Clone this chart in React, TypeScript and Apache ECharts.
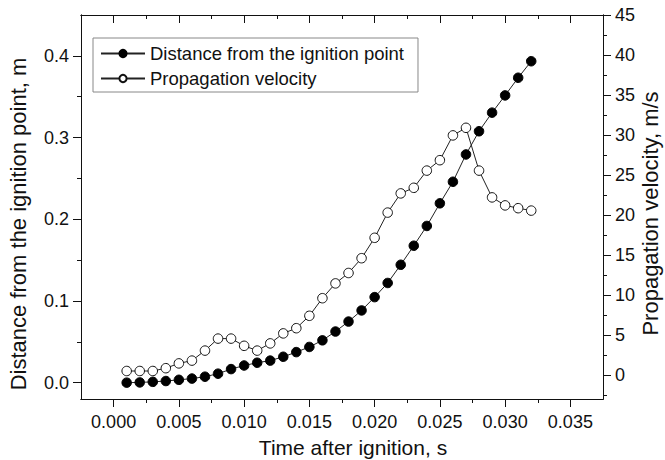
import React, { useEffect, useRef } from "react";
import * as echarts from "echarts";

const times = [
  0.001, 0.002, 0.003, 0.004, 0.005, 0.006, 0.007, 0.008, 0.009, 0.01,
  0.011, 0.012, 0.013, 0.014, 0.015, 0.016, 0.017, 0.018, 0.019, 0.02,
  0.021, 0.022, 0.023, 0.024, 0.025, 0.026, 0.027, 0.028, 0.029, 0.03,
  0.031, 0.032,
];
const distance = [
  0, 0.0003, 0.001, 0.002, 0.0035, 0.005, 0.0073, 0.011, 0.0166, 0.021,
  0.0244, 0.027, 0.0317, 0.0374, 0.0437, 0.0518, 0.0626, 0.0748, 0.0884,
  0.1047, 0.122, 0.1443, 0.1676, 0.1918, 0.2195, 0.2459, 0.2793, 0.3077,
  0.3305, 0.3516, 0.3732, 0.3934,
];
const velocity = [
  0.5, 0.5, 0.5, 0.85, 1.45, 1.8, 3.05, 4.55, 4.55, 3.65, 3.05, 3.95, 5.2,
  5.85, 7.4, 9.6, 11.45, 12.75, 14.6, 17.15, 20.3, 22.7, 23.4, 25.55, 26.85,
  29.95, 30.9, 25.55, 22.2, 21.2, 20.85, 20.55,
];
const xMajor = [0, 0.005, 0.01, 0.015, 0.02, 0.025, 0.03, 0.035];
const xMinor = [0.0025, 0.0075, 0.0125, 0.0175, 0.0225, 0.0275, 0.0325];
const yLeftMajor = [0, 0.1, 0.2, 0.3, 0.4];
const yLeftMinor = [0.05, 0.15, 0.25, 0.35];
const yRightMajor = [0, 5, 10, 15, 20, 25, 30, 35, 40, 45];
const yRightMinor = [-2.5, 2.5, 7.5, 12.5, 17.5, 22.5, 27.5, 32.5, 37.5, 42.5];

const FONT = "'Liberation Sans', Arial, sans-serif";
const INK = "#111";

export default function App() {
  const ref = useRef<HTMLDivElement>(null);
  useEffect(() => {
    if (!ref.current) return;
    const chart = echarts.init(ref.current, null, { renderer: "svg" });
    const line = { lineStyle: { color: INK, width: 1 } };
    const gridRect = { left: 81, top: 15, right: 62, bottom: 61, containLabel: false, outerBoundsMode: "none" };
    const xBase = { type: "value", min: -0.0025, max: 0.0375, splitLine: { show: false }, axisLine: { onZero: false, ...line } };
    const yLBase = { type: "value", min: -0.02, max: 0.45, splitLine: { show: false }, axisLine: { onZero: false, ...line } };
    const yRBase = { type: "value", min: -3, max: 45, splitLine: { show: false }, axisLine: { onZero: false, ...line } };
    chart.setOption({
      animation: false,
      textStyle: { fontFamily: FONT, color: INK },
      grid: [gridRect, gridRect],
      legend: {
        left: 93,
        top: 38,
        orient: "vertical",
        itemGap: 6,
        itemWidth: 44,
        itemHeight: 9,
        padding: [6, 14, 4, 7],
        borderColor: "#888",
        borderWidth: 1,
        textStyle: { fontSize: 18.5, color: INK, fontFamily: FONT },
        data: ["Distance from the ignition point", "Propagation velocity"],
      },
      xAxis: [
        {
          ...xBase, gridIndex: 0, position: "bottom",
          axisTick: { customValues: xMajor, length: 8, ...line },
          axisLabel: { customValues: xMajor, formatter: (v: number) => v.toFixed(3), fontSize: 18, margin: 14, color: INK, fontFamily: FONT },
          name: "Time after ignition, s", nameLocation: "middle", nameGap: 38,
          nameTextStyle: { fontSize: 21, color: INK, fontFamily: FONT, padding: [0, 0, 0, 22] },
        },
        {
          ...xBase, gridIndex: 0, position: "top",
          axisTick: { customValues: xMajor, length: 8, inside: true, ...line },
          axisLabel: { show: false },
        },
        {
          ...xBase, gridIndex: 1, position: "bottom",
          axisTick: { customValues: xMinor, length: 4, ...line },
          axisLabel: { show: false },
        },
        {
          ...xBase, gridIndex: 1, position: "top",
          axisTick: { customValues: xMinor, length: 4, inside: true, ...line },
          axisLabel: { show: false },
        },
      ],
      yAxis: [
        {
          ...yLBase, gridIndex: 0, position: "left",
          axisTick: { customValues: yLeftMajor, length: 8, ...line },
          axisLabel: { customValues: yLeftMajor, formatter: (v: number) => v.toFixed(1), fontSize: 18, margin: 12, color: INK, fontFamily: FONT },
          name: "Distance from the ignition point, m", nameLocation: "middle", nameGap: 52, nameRotate: 90,
          nameTextStyle: { fontSize: 22, color: INK, fontFamily: FONT, padding: [0, 34, 0, 0] },
        },
        {
          ...yRBase, gridIndex: 0, position: "right",
          axisTick: { customValues: yRightMajor, length: 8, ...line },
          axisLabel: { customValues: yRightMajor, fontSize: 18, margin: 12, color: INK, fontFamily: FONT },
          name: "Propagation velocity, m/s", nameLocation: "middle", nameGap: 36, nameRotate: 90,
          nameMoveOverlap: false,
          nameTextStyle: { fontSize: 22, color: INK, fontFamily: FONT, padding: [0, 13, 0, 0] },
        },
        {
          ...yLBase, gridIndex: 1, position: "left",
          axisTick: { customValues: yLeftMinor, length: 4, ...line },
          axisLabel: { show: false },
        },
        {
          ...yRBase, gridIndex: 1, position: "right",
          axisTick: { customValues: yRightMinor, length: 4, ...line },
          axisLabel: { show: false },
        },
      ],
      series: [
        {
          name: "Distance from the ignition point",
          type: "line",
          xAxisIndex: 0,
          yAxisIndex: 0,
          data: times.map((t, i) => [t, distance[i]]),
          symbol: "circle",
          symbolSize: 9.5,
          lineStyle: { color: "#222", width: 1 },
          itemStyle: { color: "#000", borderColor: "#000", borderWidth: 1 },
        },
        {
          name: "Propagation velocity",
          type: "line",
          xAxisIndex: 0,
          yAxisIndex: 1,
          data: times.map((t, i) => [t, velocity[i]]),
          symbol: "circle",
          symbolSize: 9.5,
          lineStyle: { color: "#222", width: 1 },
          itemStyle: { color: "#fff", borderColor: "#111", borderWidth: 1 },
        },
      ],
    });
    return () => chart.dispose();
  }, []);
  return (
    <div
      ref={ref}
      style={{ position: "absolute", left: 0, top: 0, width: 665, height: 460, background: "#fff" }}
    />
  );
}
